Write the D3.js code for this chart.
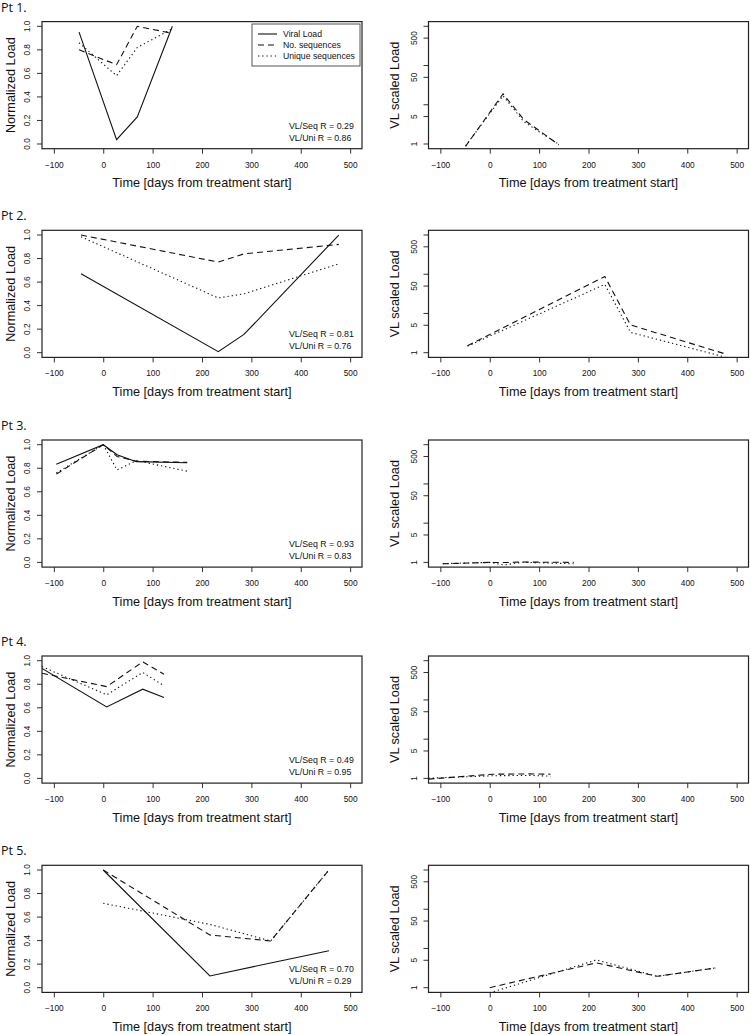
<!DOCTYPE html>
<html><head><meta charset="utf-8">
<script src="https://cdn.jsdelivr.net/npm/d3@7"></script>
<style>body{margin:0;background:#fff} svg{display:block}</style>
</head><body>
<svg id="c" width="751" height="1035"></svg>
<script>
// ---------- data ----------
const patientLabels = ["Pt 1.", "Pt 2.", "Pt 3.", "Pt 4.", "Pt 5."];
const seriesNames = ["Viral Load", "No. sequences", "Unique sequences"];
const xTicks = [-100, 0, 100, 200, 300, 400, 500];
const yTicksLeft = [0, 0.2, 0.4, 0.6, 0.8, 1.0];
const yTicksRight = [1, 5, 10, 50, 100, 500, 1000];
const yLabelsRight = [1, 5, 50, 500];

const pt1Days = [-49, 27, 69, 140];
const pt1ViralLoad = [0.95, 0.037, 0.23, 1.0];
const pt1NoSeq = [0.80, 0.674, 1.0, 0.94];
const pt1UniqueSeq = [0.86, 0.58, 0.82, 0.98];
const pt1SeqScaled = [0.87, 19, 4.2, 0.95];
const pt1UniScaled = [0.9, 17, 3.7, 0.98];
const pt1R = [0.29, 0.86];

const pt2Days = [-45, 233, 285, 477];
const pt2ViralLoad = [0.67, 0.009, 0.155, 1.0];
const pt2NoSeq = [1.0, 0.77, 0.84, 0.92];
const pt2UniqueSeq = [0.985, 0.465, 0.50, 0.755];
const pt2SeqScaled = [1.5, 88, 5.1, 0.93];
const pt2UniScaled = [1.47, 55, 3.3, 0.77];
const pt2R = [0.81, 0.76];

const pt3Days = [-95, 0, 28, 67, 170];
const pt3ViralLoad = [0.833, 1.0, 0.915, 0.856, 0.847];
const pt3NoSeq = [0.75, 1.0, 0.90, 0.86, 0.85];
const pt3UniqueSeq = [0.76, 1.0, 0.785, 0.865, 0.775];
const pt3SeqScaled = [0.92, 1.0, 0.99, 1.02, 1.0];
const pt3UniScaled = [0.93, 1.0, 0.86, 1.01, 0.92];
const pt3R = [0.93, 0.83];

const pt4Days = [-124, 7, 80, 123];
const pt4ViralLoad = [0.935, 0.607, 0.758, 0.688];
const pt4NoSeq = [0.893, 0.78, 0.99, 0.885];
const pt4UniqueSeq = [0.95, 0.71, 0.90, 0.787];
const pt4SeqScaled = [0.96, 1.28, 1.3, 1.28];
const pt4UniScaled = [1.01, 1.17, 1.19, 1.14];
const pt4R = [0.49, 0.95];

const pt5Days = [0, 216, 339, 457];
const pt5ViralLoad = [1.0, 0.10, 0.21, 0.314];
const pt5NoSeq = [1.0, 0.448, 0.397, 1.0];
const pt5UniqueSeq = [0.717, 0.538, 0.397, 1.0];
const pt5SeqScaled = [1.0, 4.3, 1.95, 3.19];
const pt5UniScaled = [0.74, 5.1, 1.95, 3.19];
const pt5R = [0.70, 0.29];

const allDays = [pt1Days, pt2Days, pt3Days, pt4Days, pt5Days];
const allVL = [pt1ViralLoad, pt2ViralLoad, pt3ViralLoad, pt4ViralLoad, pt5ViralLoad];
const allSeq = [pt1NoSeq, pt2NoSeq, pt3NoSeq, pt4NoSeq, pt5NoSeq];
const allUni = [pt1UniqueSeq, pt2UniqueSeq, pt3UniqueSeq, pt4UniqueSeq, pt5UniqueSeq];
const allSeqScaled = [pt1SeqScaled, pt2SeqScaled, pt3SeqScaled, pt4SeqScaled, pt5SeqScaled];
const allUniScaled = [pt1UniScaled, pt2UniScaled, pt3UniScaled, pt4UniScaled, pt5UniScaled];
const allR = [pt1R, pt2R, pt3R, pt4R, pt5R];

// ---------- layout ----------
const svg = d3.select("#c");
const FONT = "'Liberation Sans', Arial, Helvetica, sans-serif";
const rowTops = [21.6, 230.3, 440, 656, 865.3];
const PH = 127.1, PW = 320;
const leftX0 = 42, rightX0 = 428.5;
const DASH = "6,4", DOT = "1.3,2.9";
const styles = [null, DASH, DOT];
let clipId = 0;

function drawPanel(g, x0, top, isLog, seriesY, days, yTitle, titleOff) {
  const bottom = top + PH;
  const x = d3.scaleLinear().domain([-124, 524]).range([x0, x0 + PW]);
  let y;
  if (isLog) {
    y = d3.scaleLog().domain([Math.pow(10, -0.12), Math.pow(10, 3.12)]).range([bottom, top]);
  } else {
    y = d3.scaleLinear().domain([-0.04, 1.04]).range([bottom, top]);
  }
  const id = "clip" + (clipId++);
  g.append("clipPath").attr("id", id).append("rect")
    .attr("x", x0).attr("y", top).attr("width", PW).attr("height", PH);

  // lines
  const line = d3.line().x(d => x(d[0])).y(d => y(d[1]));
  seriesY.forEach((vals, i) => {
    if (!vals) return;
    g.append("path")
      .attr("clip-path", `url(#${id})`)
      .attr("d", line(days.map((d, k) => [d, vals[k]])))
      .attr("fill", "none").attr("stroke", "#111").attr("stroke-width", 1.1)
      .attr("stroke-dasharray", styles[i]);
  });

  // x axis
  const xa = g.append("g").attr("transform", `translate(0,${bottom})`)
    .call(d3.axisBottom(x).tickValues(xTicks).tickSize(5).tickPadding(3).tickFormat(d3.format("d")));
  xa.select(".domain").remove();
  xa.selectAll("line").attr("stroke", "#333");
  xa.selectAll("text").attr("font-family", FONT).attr("font-size", 8.3).attr("fill", "#111")
    .attr("y", 0).attr("dy", 0).attr("transform", "translate(0,19)");

  // y axis
  const ticks = isLog ? yTicksRight : yTicksLeft;
  ticks.forEach(t => {
    g.append("line").attr("x1", x0 - 5).attr("x2", x0).attr("y1", y(t)).attr("y2", y(t))
      .attr("stroke", "#333");
    const show = isLog ? yLabelsRight.includes(t) : true;
    if (show) {
      g.append("text").attr("transform", `translate(${x0 - 12},${y(t)}) rotate(-90)`)
        .attr("text-anchor", "middle").attr("font-family", FONT).attr("font-size", 8.3)
        .attr("fill", "#111").text(isLog ? d3.format("d")(t) : d3.format(".1f")(t));
    }
  });

  // box
  g.append("rect").attr("x", x0).attr("y", top).attr("width", PW).attr("height", PH)
    .attr("fill", "none").attr("stroke", "#222").attr("stroke-width", 1.2);

  // titles
  g.append("text").attr("x", x0 + PW / 2).attr("y", bottom + 38.6).attr("text-anchor", "middle")
    .attr("font-family", FONT).attr("font-size", 12.7).attr("fill", "#111")
    .text("Time [days from treatment start]");
  g.append("text").attr("transform", `translate(${x0 - titleOff},${top + PH / 2}) rotate(-90)`)
    .attr("text-anchor", "middle").attr("font-family", FONT).attr("font-size", 12.7).attr("fill", "#111")
    .text(yTitle);
  return { x, y, bottom };
}

patientLabels.forEach((lab, r) => {
  const top = rowTops[r];
  const g = svg.append("g");
  g.append("text").attr("x", 1).attr("y", Math.max(top - 10.5, 12))
    .attr("font-family", "'Open Sans', 'Noto Sans', sans-serif").attr("font-size", 12.5)
    .attr("fill", "#111").text(lab);

  const L = drawPanel(g, leftX0, top, false, [allVL[r], allSeq[r], allUni[r]], allDays[r], "Normalized Load", 27);
  drawPanel(g, rightX0, top, true, [null, allSeqScaled[r], allUniScaled[r]], allDays[r], "VL scaled Load", 29.5);

  // correlation annotation
  const rv = allR[r];
  g.append("text").attr("x", leftX0 + 247).attr("y", L.bottom - 20)
    .attr("font-family", FONT).attr("font-size", 8.8).attr("fill", "#111")
    .text("VL/Seq R = " + rv[0].toFixed(2));
  g.append("text").attr("x", leftX0 + 247).attr("y", L.bottom - 8)
    .attr("font-family", FONT).attr("font-size", 8.8).attr("fill", "#111")
    .text("VL/Uni R = " + rv[1].toFixed(2));

  if (r === 0) {
    const lg = g.append("g");
    lg.append("rect").attr("x", 252).attr("y", 24).attr("width", 108).attr("height", 42)
      .attr("fill", "#fff").attr("stroke", "#555").attr("stroke-width", 1);
    seriesNames.forEach((s, i) => {
      const yy = 34 + i * 11;
      lg.append("line").attr("x1", 258).attr("x2", 277).attr("y1", yy).attr("y2", yy)
        .attr("stroke", "#111").attr("stroke-width", 1.1).attr("stroke-dasharray", styles[i]);
      lg.append("text").attr("x", 283).attr("y", yy + 3).attr("font-family", FONT)
        .attr("font-size", 8.7).attr("fill", "#111").text(s);
    });
  }
});
</script>
</body></html>
